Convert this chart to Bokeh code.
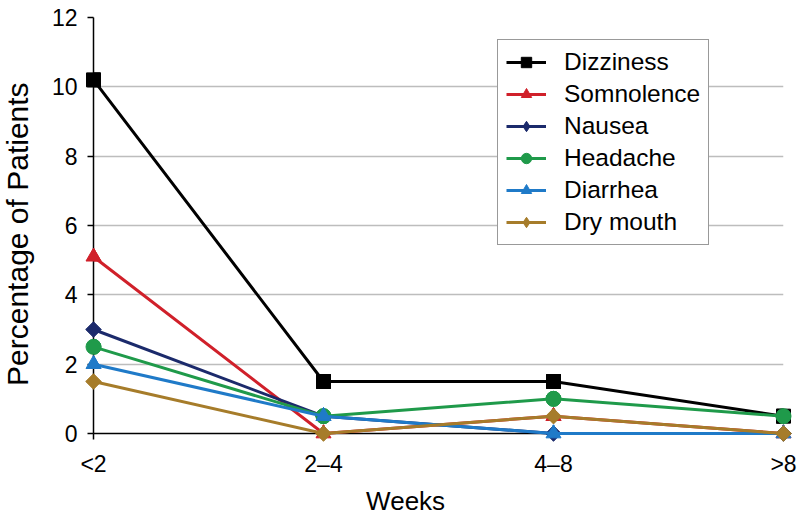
import numpy as np
from bokeh.plotting import figure
from bokeh.models import Legend, LegendItem, FixedTicker
from bokeh.core.properties import value
from bokeh.embed import file_html
from bokeh.resources import INLINE

weeks = ["<2", "2\u20134", "4\u20138", ">8"]
x_pos = [0, 1, 2, 3]

dizziness = [10.2, 1.5, 1.5, 0.5]
somnolence = [5.1, 0.0, 0.5, 0.0]
nausea = [3.0, 0.5, 0.0, 0.0]
headache = [2.5, 0.5, 1.0, 0.5]
diarrhea = [2.0, 0.5, 0.0, 0.0]
dry_mouth = [1.5, 0.0, 0.5, 0.0]

y_ticks = [0, 2, 4, 6, 8, 10, 12]

x_title = "Weeks"
y_title = "Percentage of Patients"

# name, values, colour, plot marker, angle, size, legend marker, legend size
series = [
    ("Dizziness", dizziness, "#000000", "square", 0.0, 14, "square", 14),
    ("Somnolence", somnolence, "#D0202A", "triangle", 0.0, 15, "triangle", 15),
    ("Nausea", nausea, "#1B2A6B", "square", np.pi / 4, 11, "diamond", 13),
    ("Headache", headache, "#1F9A4A", "circle", 0.0, 15, "circle", 15),
    ("Diarrhea", diarrhea, "#1F7AC8", "triangle", 0.0, 15, "triangle", 15),
    ("Dry mouth", dry_mouth, "#A67C2A", "square", np.pi / 4, 11, "diamond", 13),
]

FONT = "Liberation Sans"

p = figure(width=800, height=519, output_backend="svg", toolbar_location=None,
           x_range=(0, 3), y_range=(0, 12),
           min_border_left=93, min_border_right=17, min_border_top=17, min_border_bottom=86)
p.outline_line_color = None
p.background_fill_color = "white"

p.xgrid.visible = False
p.ygrid.grid_line_color = "#BDBDBD"
p.ygrid.grid_line_width = 1.5
p.ygrid.ticker = FixedTicker(ticks=y_ticks)

p.xaxis.ticker = FixedTicker(ticks=x_pos)
p.xaxis.major_label_overrides = {x: w for x, w in zip(x_pos, weeks)}
p.yaxis.ticker = FixedTicker(ticks=y_ticks)

for ax in (p.xaxis[0], p.yaxis[0]):
    ax.axis_line_color = "black"
    ax.axis_line_width = 1.5
    ax.major_tick_line_color = "black"
    ax.major_tick_line_width = 1.5
    ax.major_tick_out = 6
    ax.major_tick_in = 0
    ax.minor_tick_line_color = None
    ax.major_label_text_font = FONT
    ax.major_label_text_font_size = "23px"
    ax.major_label_text_color = "black"

p.xaxis.major_label_standoff = 11
p.yaxis.major_label_standoff = 10

# axis titles as unclipped text, placed slightly off-centre like the reference
p.text(x=[1.357], y=[0], text=[x_title], y_offset=67,
       text_font=value(FONT), text_font_size="26px", text_color="black",
       text_align="center", text_baseline="middle", level="overlay")
p.text(x=[0], y=[5.75], text=[y_title], x_offset=-76, angle=np.pi / 2,
       text_font=value(FONT), text_font_size="30px", text_color="black",
       text_align="center", text_baseline="middle", level="overlay")

items = []
for name, vals, color, marker, angle, size, lmarker, lsize in series:
    # legend-shaped marker, drawn underneath and covered by the plotted marker
    lg = p.scatter(x_pos, vals, marker=lmarker, size=lsize,
                   fill_color=color, line_color=color)
    ln = p.line(x_pos, vals, line_color=color, line_width=3, level="overlay")
    p.scatter(x_pos, vals, marker=marker, angle=angle, size=size,
              fill_color=color, line_color=color, level="overlay")
    items.append(LegendItem(label=name, renderers=[ln, lg]))

legend = Legend(items=items, location=(404, 188))
legend.label_text_font = FONT
legend.label_text_font_size = "24.5px"
legend.label_text_color = "black"
legend.glyph_width = 40
legend.glyph_height = 26
legend.label_height = 26
legend.spacing = 4
legend.padding = 8
legend.margin = 0
legend.label_standoff = 18
legend.border_line_color = "#333333"
legend.border_line_width = 1.5
legend.background_fill_color = "white"
legend.background_fill_alpha = 1.0
p.add_layout(legend, "center")

open("out.html", "w").write(file_html(p, INLINE))
